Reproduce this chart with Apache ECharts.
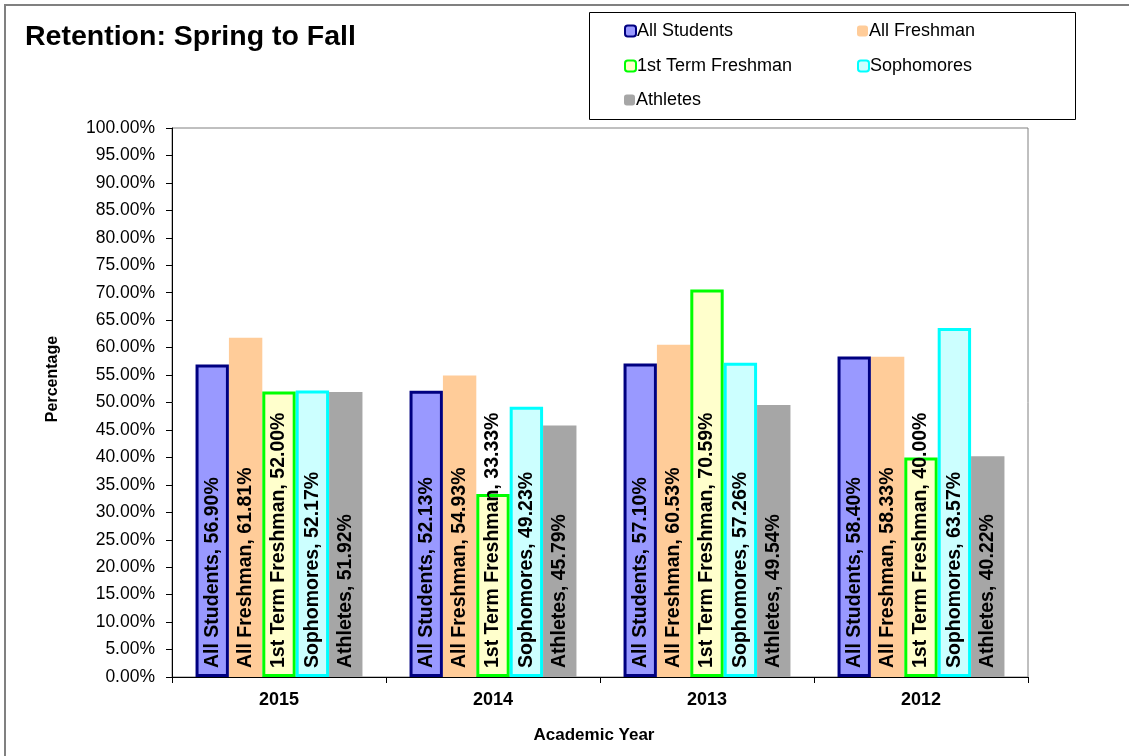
<!DOCTYPE html>
<html>
<head>
<meta charset="utf-8">
<script src="https://cdn.jsdelivr.net/npm/echarts@6/dist/echarts.min.js"></script>
<style>
  html, body { margin: 0; padding: 0; background: #fff; }
  #charts { width: 1129px; height: 756px; }
</style>
</head>
<body>
<div id="charts"></div>
<script>
// academic years (categories)
const years = ['2015', '2014', '2013', '2012'];
// retention %, one array per group
const allStudents = [56.90, 52.13, 57.10, 58.40];
const allFreshman = [61.81, 54.93, 60.53, 58.33];
const firstTermFreshman = [52.00, 33.33, 70.59, 40.00];
const sophomores = [52.17, 49.23, 57.26, 63.57];
const athletes = [51.92, 45.79, 49.54, 40.22];

const myChart = echarts.init(document.getElementById('charts'));

const font = 'Arial, "Liberation Sans", sans-serif';

function barSeries(name, data, fill, border) {
  return {
    name: name,
    type: 'bar',
    data: data,
    barGap: '0%',
    barCategoryGap: '22%',
    itemStyle: {
      color: fill,
      borderColor: border || fill,
      borderWidth: border ? 3 : 0
    },
    label: {
      show: true,
      position: 'insideBottom',
      rotate: 90,
      align: 'left',
      verticalAlign: 'middle',
      distance: 9,
      color: '#000',
      fontFamily: font,
      fontWeight: 'bold',
      fontSize: 19.5,
      formatter: (p) => p.seriesName + ', ' + p.value.toFixed(2) + '%'
    }
  };
}

// legend placements (two columns)
const legendPos = [
  ['All Students', 624, 22],
  ['All Freshman', 857, 22],
  ['1st Term Freshman', 624, 57],
  ['Sophomores', 857, 57],
  ['Athletes', 624, 91]
];

let option = {
  animation: false,
  title: {
    text: 'Retention: Spring to Fall',
    left: 20,
    top: 18,
    textStyle: { fontFamily: font, fontWeight: 'bold', fontSize: 28.5, color: '#000' }
  },
  graphic: [
    {
      type: 'rect',
      shape: { x: 5, y: 5, width: 1200, height: 800 },
      style: { fill: 'none', stroke: '#808080', lineWidth: 2 },
      silent: true
    },
    {
      type: 'rect',
      shape: { x: 589.5, y: 12.5, width: 486, height: 107 },
      style: { fill: 'none', stroke: '#000', lineWidth: 1 },
      silent: true
    },
    {
      type: 'text',
      x: 53,
      y: 379,
      rotation: Math.PI / 2,
      style: {
        text: 'Percentage',
        fill: '#000',
        font: 'bold 16px Arial, "Liberation Sans", sans-serif',
        align: 'center',
        verticalAlign: 'middle'
      },
      silent: true
    }
  ],
  legend: legendPos.map(([n, x, y]) => ({
    data: [n],
    left: x,
    top: y,
    padding: 0,
    itemWidth: 11,
    itemHeight: 11,
    itemGap: 2,
    textStyle: { fontFamily: font, fontSize: 18, color: '#000', padding: [0, 0, 0, -4] }
  })),
  grid: {
    left: 172,
    right: 101,
    top: 128,
    bottom: 79,
    show: true,
    borderColor: '#808080',
    borderWidth: 1
  },
  xAxis: {
    type: 'category',
    data: years,
    name: 'Academic Year',
    nameLocation: 'middle',
    nameGap: 50,
    nameTextStyle: { fontFamily: font, fontWeight: 'bold', fontSize: 17, color: '#000', padding: [0, 12, 0, 0] },
    axisLine: { lineStyle: { color: '#000' } },
    axisTick: { show: true, length: 6, lineStyle: { color: '#000' } },
    axisLabel: { fontFamily: font, fontWeight: 'bold', fontSize: 18, color: '#000', margin: 14 }
  },
  yAxis: {
    type: 'value',
    min: 0,
    max: 100,
    interval: 5,
    axisLine: { show: true, lineStyle: { color: '#000' } },
    axisTick: { show: true, length: 6, lineStyle: { color: '#000' } },
    splitLine: { show: false },
    axisLabel: {
      fontFamily: font,
      fontSize: 17.5,
      color: '#000',
      margin: 17,
      formatter: (v) => v.toFixed(2) + '%'
    }
  },
  series: [
    barSeries('All Students', allStudents, '#9999FF', '#000080'),
    barSeries('All Freshman', allFreshman, '#FFCC99'),
    barSeries('1st Term Freshman', firstTermFreshman, '#FFFFCC', '#00FF00'),
    barSeries('Sophomores', sophomores, '#CCFFFF', '#00FFFF'),
    barSeries('Athletes', athletes, '#A6A6A6')
  ]
};

myChart.setOption(option);
</script>
</body>
</html>
